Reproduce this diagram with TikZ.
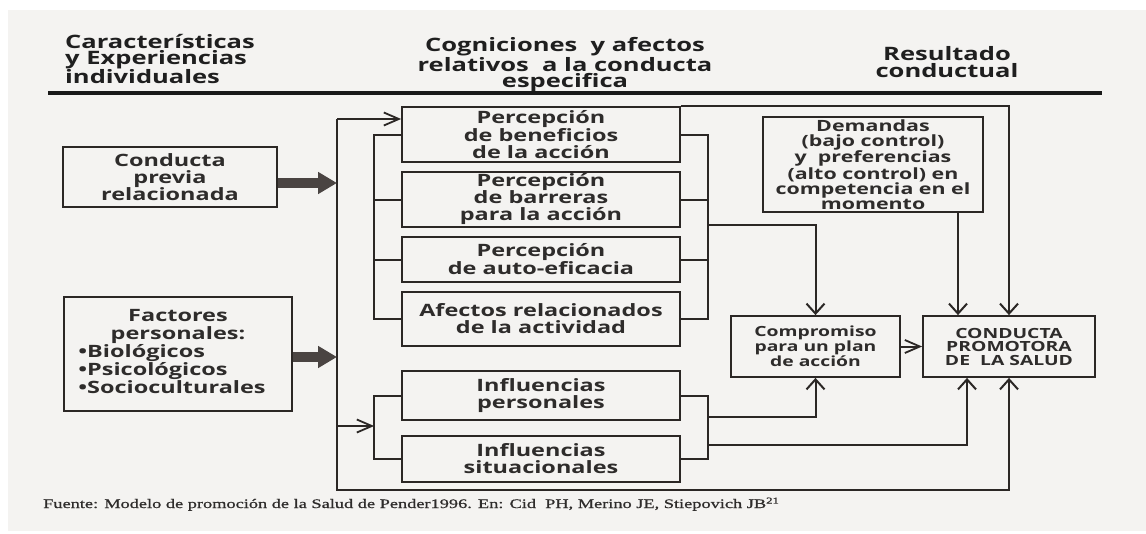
\documentclass[tikz,border=0pt]{standalone}
\usepackage{fontspec}
\usetikzlibrary{arrows.meta}
\newfontfamily\hfont[FakeStretch=1.38]{Open Sans}
\newfontfamily\ffont[FakeStretch=1.41,FakeBold=0.8]{Liberation Serif}
\definecolor{bgc}{HTML}{F4F3F1}
\definecolor{ink}{HTML}{2B2725}
\definecolor{txt}{HTML}{2E2C2B}
\definecolor{fat}{HTML}{4A4442}
\tikzset{
  box/.style={draw=ink, line width=1.8pt, inner sep=0pt, align=center, text=txt,
    font=\hfont\bfseries\fontsize{17}{17}\selectfont},
  smallbox/.style={box, font=\hfont\bfseries\fontsize{14}{13.5}\selectfont},
  dembox/.style={box, font=\hfont\bfseries\fontsize{15.5}{15}\selectfont},
  hdr/.style={inner sep=0pt, text=black!88, font=\hfont\bfseries\fontsize{18.5}{16.3}\selectfont},
  conn/.style={draw=ink, line width=2pt},
  harr/.style={conn, -{Straight Barb[length=15pt,width=13pt,line width=1.8pt]}},
  varr/.style={conn, -{Straight Barb[length=10pt,width=18pt,line width=2pt]}},
  fatarr/.style={draw=fat, line width=10pt, -{Triangle[length=19pt,width=21pt]}},
}
\begin{document}
\begin{tikzpicture}[x=1pt,y=-1pt]
\useasboundingbox (0,0) rectangle (1146,533);
\fill[white] (0,0) rectangle (1146,533);
\fill[bgc] (8,10) rectangle (1146,531);

% headers
\node[hdr, align=left, anchor=west] (h1) at (65,59) {Características\\y Experiencias\\individuales};
\node[hdr, align=center] (h2) at (565,65) {Cogniciones~ y afectos\\relativos~ a la conducta\\especifica};
\node[hdr, align=center] (h3) at (947,62) {Resultado\\conductual};
\coordinate (ruleL) at (48,93);
\coordinate (ruleR) at (1102,93);
\draw[line width=3.5pt, black!90] (ruleL) -- (ruleR);

% left boxes
\node[box, minimum width=214pt, minimum height=60pt] (prev) at (170,177) {Conducta\\previa\\relacionada};
\node[box, minimum width=228pt, minimum height=114pt] (fact) at (178,354)
  {\begin{tabular}{@{}l@{}}\multicolumn{1}{@{}c@{}}{Factores}\\ \multicolumn{1}{@{}c@{}}{personales:}\\ •Biológicos\\ •Psicológicos\\ •Socioculturales\hspace*{12pt}\end{tabular}};

% cognition boxes
\node[box, minimum width=278pt, minimum height=55pt] (ben) at (541,134.5) {Percepción\\de beneficios\\de la acción};
\node[box, minimum width=278pt, minimum height=55pt] (bar) at (541,199.5) {Percepción\\de barreras\\para la acción};
\node[box, minimum width=278pt, minimum height=45pt] (auto) at (541,259.5) {Percepción\\de auto-eficacia};
\node[box, minimum width=278pt, minimum height=54pt] (afe) at (541,319) {Afectos relacionados\\de la actividad};
\node[box, minimum width=278pt, minimum height=49pt] (ipe) at (541,395.5) {Influencias\\personales};
\node[box, minimum width=278pt, minimum height=46pt] (isi) at (541,459) {Influencias\\situacionales};

% right boxes
\node[dembox, minimum width=220pt, minimum height=95pt] (dem) at (873,164.5) {Demandas\\(bajo control)\\y~~preferencias\\(alto control) en\\competencia en el\\momento};
\node[smallbox, minimum width=169pt, minimum height=61pt] (com) at (815.5,346.5) {Compromiso\\para un plan\\de acción};
\node[smallbox, minimum width=172pt, minimum height=61pt] (cps) at (1009,346.5) {CONDUCTA\\PROMOTORA\\DE~~LA SALUD};

% main trunk
\coordinate (mt) at (337,119);
\coordinate (mb) at (337,490);
\coordinate (ma) at (337,426);
\draw[harr] (mt) -- (mt -| ben.west);
\draw[varr] (mt) -- (mb) -| (cps.south);
\draw[fatarr] ([yshift=-6pt]prev.east) -- ([yshift=-6pt]prev.east -| mt);
\draw[fatarr] ([yshift=-3pt]fact.east) -- ([yshift=-3pt]fact.east -| mt);

% cognition brackets
\draw[conn] (ben.west) -- ++(-27,0) coordinate (bl) |- (afe.west);
\draw[conn] (bar.west) -- (bar.west -| bl);
\draw[conn] (auto.west) -- (auto.west -| bl);
\draw[conn] (ben.east) -- ++(27,0) coordinate (br) |- (afe.east);
\draw[conn] (bar.east) -- (bar.east -| br);
\draw[conn] (auto.east) -- (auto.east -| br);
\coordinate (brm) at (707,225);
\draw[varr] (brm) -| (com.north);

% top line
\draw[varr] (ben.north east) -| (cps.north);
% demandas
\draw[varr] ([xshift=-51pt]cps.north |- dem.south) -- ([xshift=-51pt]cps.north);

% influences
\draw[conn] (ipe.west) -- ++(-27,0) coordinate (il) |- (isi.west);
\draw[harr] (ma) -- (ma -| il);
\draw[conn] (ipe.east) -- ++(27,0) coordinate (ir) |- (isi.east);
\coordinate (ir1) at (707,417);
\coordinate (ir2) at (707,445);
\draw[varr] (ir1) -| (com.south);
\draw[varr] (ir2) -| ([xshift=-42pt]cps.south);
\draw[harr] (com.east) -- (cps.west);

% source
\node[anchor=base west, inner sep=0pt, text=txt, font=\ffont\fontsize{13}{13}\selectfont] (src) at (43,508)
  {Fuente: Modelo de promoción de la Salud de Pender1996. En: Cid~ PH, Merino JE, Stiepovich JB\textsuperscript{21}};
\end{tikzpicture}
\end{document}
